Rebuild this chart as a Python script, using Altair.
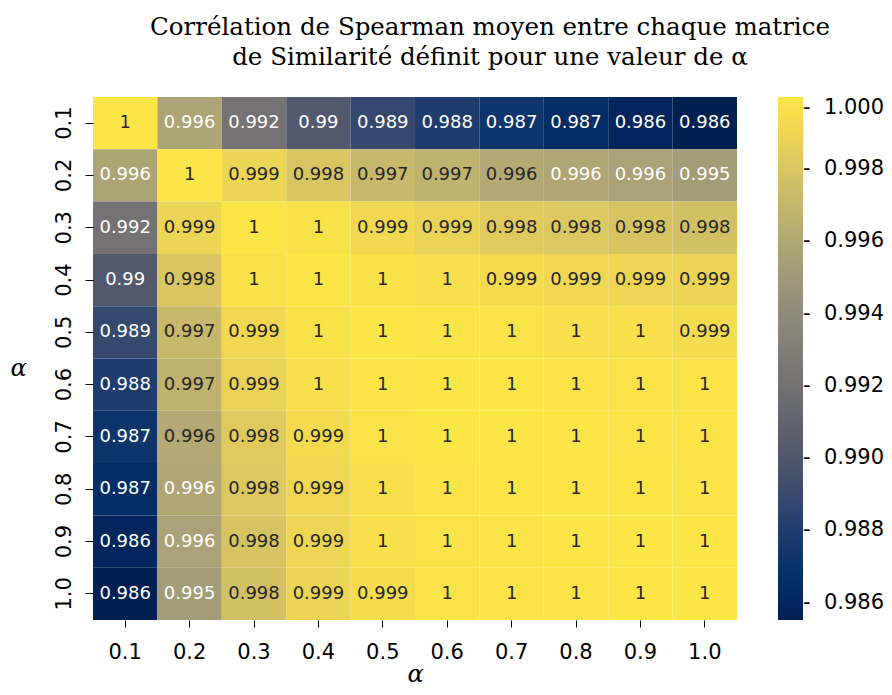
import altair as alt
import pandas as pd

alphas = ["0.1", "0.2", "0.3", "0.4", "0.5", "0.6", "0.7", "0.8", "0.9", "1.0"]

row_01 = [1.0, 0.99580, 0.99210, 0.99020, 0.98890, 0.98790, 0.98720, 0.98660, 0.98600, 0.98552]
row_02 = [0.99580, 1.0, 0.99890, 0.99800, 0.99720, 0.99680, 0.99620, 0.99590, 0.99570, 0.99530]
row_03 = [0.99210, 0.99890, 1.0, 0.99970, 0.99920, 0.99880, 0.99830, 0.99810, 0.99790, 0.99770]
row_04 = [0.99020, 0.99800, 0.99970, 1.0, 0.99970, 0.99960, 0.99930, 0.99910, 0.99900, 0.99890]
row_05 = [0.98890, 0.99720, 0.99920, 0.99970, 1.0, 0.99990, 0.99980, 0.99960, 0.99960, 0.99940]
row_06 = [0.98790, 0.99680, 0.99880, 0.99960, 0.99990, 1.0, 0.99995, 0.99985, 0.99980, 0.99975]
row_07 = [0.98720, 0.99620, 0.99830, 0.99930, 0.99980, 0.99995, 1.0, 0.99995, 0.99990, 0.99985]
row_08 = [0.98660, 0.99590, 0.99810, 0.99910, 0.99960, 0.99985, 0.99995, 1.0, 0.99995, 0.99990]
row_09 = [0.98600, 0.99570, 0.99790, 0.99900, 0.99960, 0.99980, 0.99990, 0.99995, 1.0, 0.99995]
row_10 = [0.98552, 0.99530, 0.99770, 0.99890, 0.99940, 0.99975, 0.99985, 0.99990, 0.99995, 1.0]

rows = [row_01, row_02, row_03, row_04, row_05, row_06, row_07, row_08, row_09, row_10]

legend_ticks = [0.986, 0.988, 0.990, 0.992, 0.994, 0.996, 0.998, 1.000]

records = []
for i, r in enumerate(rows):
    for j, v in enumerate(r):
        records.append({"row": alphas[i], "col": alphas[j], "v": v})
df = pd.DataFrame(records)

vmin = min(min(r) for r in rows)
vmax = max(max(r) for r in rows)

W, H = 644, 523

base = alt.Chart(df).encode(
    x=alt.X("col:O", sort=alphas, title="α",
            axis=alt.Axis(labelAngle=0, labelFontSize=21, labelFont="DejaVu Sans",
                          labelColor="black", tickSize=7, tickColor="black",
                          labelPadding=14, domain=False, titleFont="DejaVu Serif",
                          titleFontStyle="italic", titleFontWeight="normal",
                          titleFontSize=24, titleY=54, titleBaseline="middle")),
    y=alt.Y("row:O", sort=alphas, title="α",
            axis=alt.Axis(labelAngle=270, labelFontSize=21, labelFont="DejaVu Sans",
                          labelColor="black", tickSize=8, tickColor="black",
                          labelPadding=21, labelBaseline="middle", labelAlign="center",
                          domain=False, titleFont="DejaVu Serif",
                          titleFontStyle="italic", titleFontWeight="normal",
                          titleFontSize=24, titleAngle=0, titleX=-75, titleY=271,
                          titleBaseline="middle", titleAlign="center")),
)

rects = base.mark_rect(stroke=None).encode(
    color=alt.Color("v:Q",
                    scale=alt.Scale(scheme="cividis", domain=[vmin, vmax]),
                    legend=alt.Legend(title=None, orient="none", legendX=685, legendY=0,
                                      direction="vertical", gradientLength=H,
                                      gradientThickness=25, values=legend_ticks,
                                      labelExpr="'-\u00a0\u00a0' + format(datum.value, '.3f')",
                                      labelFontSize=21,
                                      labelFont="DejaVu Sans", labelColor="black",
                                      labelOffset=0, padding=0, labelOverlap=False,
                                      gradientStrokeWidth=0))
)

texts = base.mark_text(fontSize=18, font="DejaVu Sans").encode(
    text=alt.Text("v:Q", format=".3~g"),
    color=alt.condition(alt.datum.v < 0.99605, alt.value("white"), alt.value("#262626")),
)

chart = alt.layer(rects, texts).properties(
    width=W, height=H,
    title=alt.Title(["Corrélation de Spearman moyen entre chaque matrice",
                     "de Similarité définit pour une valeur de α"],
                    font="DejaVu Serif", fontSize=24.5, fontWeight="normal",
                    color="black", anchor="middle", dx=75, offset=27, lineHeight=30),
    autosize=alt.AutoSizeParams(type="none"),
    padding={"left": 85, "top": 89, "right": 147, "bottom": 67},
).configure_view(stroke=None).configure_legend(labelBaseline="middle")

chart.save("out.html", embed_options={"renderer": "svg", "actions": False})
